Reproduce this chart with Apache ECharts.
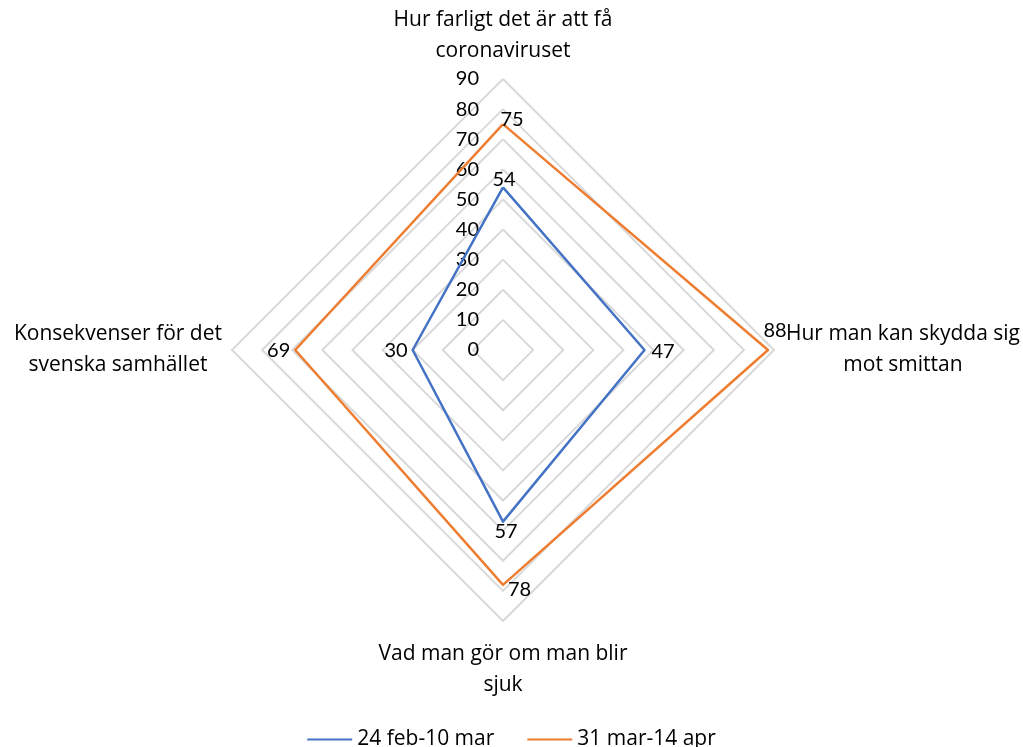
<!DOCTYPE html>
<html>
<head>
<meta charset="utf-8">
<script src="https://cdn.jsdelivr.net/npm/echarts@6/dist/echarts.min.js"></script>
</head>
<body style="margin:0">
<div id="container" style="width:1023px;height:747px"></div>
<script>
// indicators in the order echarts draws them (counter-clockwise from the top)
var categories = [
  'Hur farligt det är att få\ncoronaviruset',
  'Konsekvenser för det\nsvenska samhället',
  'Vad man gör om man blir\nsjuk',
  'Hur man kan skydda sig\nmot smittan'
];
var seriesNames = ['24 feb-10 mar', '31 mar-14 apr'];
var valuesFeb = [54, 30, 57, 47];
var valuesApr = [75, 69, 78, 88];
var axisMax = 90;
var axisStep = 10;

var colors = ['#4472C4', '#ED7D31'];
var font = '"Open Sans"';
var numFont = 'Lato';
var allValues = [valuesFeb, valuesApr];

// where each value label sits (per series, per indicator)
var labelPlace = [
  [['top', [1, 7]], ['left', [0, 1]], ['bottom', [3, -5]], ['right', [2, 2]]],
  [['top', [9, 10]], ['left', [0, 1]], ['right', [0, 5]], ['top', [7, -4]]]
];
var nameGaps = [12, 10, 18, 12];

var dom = document.getElementById('container');
var myChart = echarts.init(dom);

var indicator = categories.map(function (c, i) {
  var ind = { name: c, min: 0, max: axisMax, nameGap: nameGaps[i] };
  if (i === 0) {
    ind.axisLabel = {
      show: true, color: '#000', fontSize: 20, fontFamily: numFont, margin: 24,
      formatter: function (v) { return v; }
    };
  }
  return ind;
});

var series = allValues.map(function (vals, s) {
  var data = [{
    name: seriesNames[s],
    value: vals,
    symbol: 'none',
    lineStyle: { color: colors[s], width: 2.5 },
    itemStyle: { color: colors[s] },
    label: { show: false }
  }];
  vals.forEach(function (v, j) {
    data.push({
      name: 'lbl' + s + '_' + j,
      value: vals,
      symbol: 'circle',
      symbolSize: 0,
      lineStyle: { opacity: 0, width: 0 },
      itemStyle: { color: colors[s] },
      label: {
        show: true,
        position: labelPlace[s][j][0],
        offset: labelPlace[s][j][1],
        distance: 5,
        color: '#000',
        fontSize: 20,
        fontFamily: numFont,
        formatter: function (p) { return p.dimensionIndex === j ? String(p.value) : ''; }
      }
    });
  });
  return {
    name: seriesNames[s],
    type: 'radar',
    silent: true,
    color: colors[s],
    data: data,
    z: 3 + s
  };
});

var option = {
  animation: false,
  color: colors,
  legend: {
    data: seriesNames.map(function (n) { return { name: n, icon: 'rect' }; }),
    top: 724,
    left: 'center',
    itemWidth: 45,
    itemHeight: 2,
    itemGap: 33,
    textStyle: { color: '#000', fontSize: 21, fontFamily: font }
  },
  radar: {
    center: [503, 350],
    radius: 271,
    shape: 'polygon',
    startAngle: 90,
    splitNumber: axisMax / axisStep,
    indicator: indicator,
    nameGap: 12,
    axisName: {
      color: '#000',
      fontSize: 21,
      fontFamily: font,
      lineHeight: 31,
      formatter: function (name) {
        return name.split('\n').map(function (l) { return '{c|' + l + '}'; }).join('\n');
      },
      rich: {
        c: { align: 'center', color: '#000', fontSize: 21, fontFamily: font, lineHeight: 31 }
      }
    },
    axisLine: { show: false },
    axisTick: { show: false },
    axisLabel: { show: false },
    splitArea: { show: false },
    splitLine: { lineStyle: { color: '#D9D9D9', width: 2 } }
  },
  series: series
};

myChart.setOption(option);
</script>
</body>
</html>
